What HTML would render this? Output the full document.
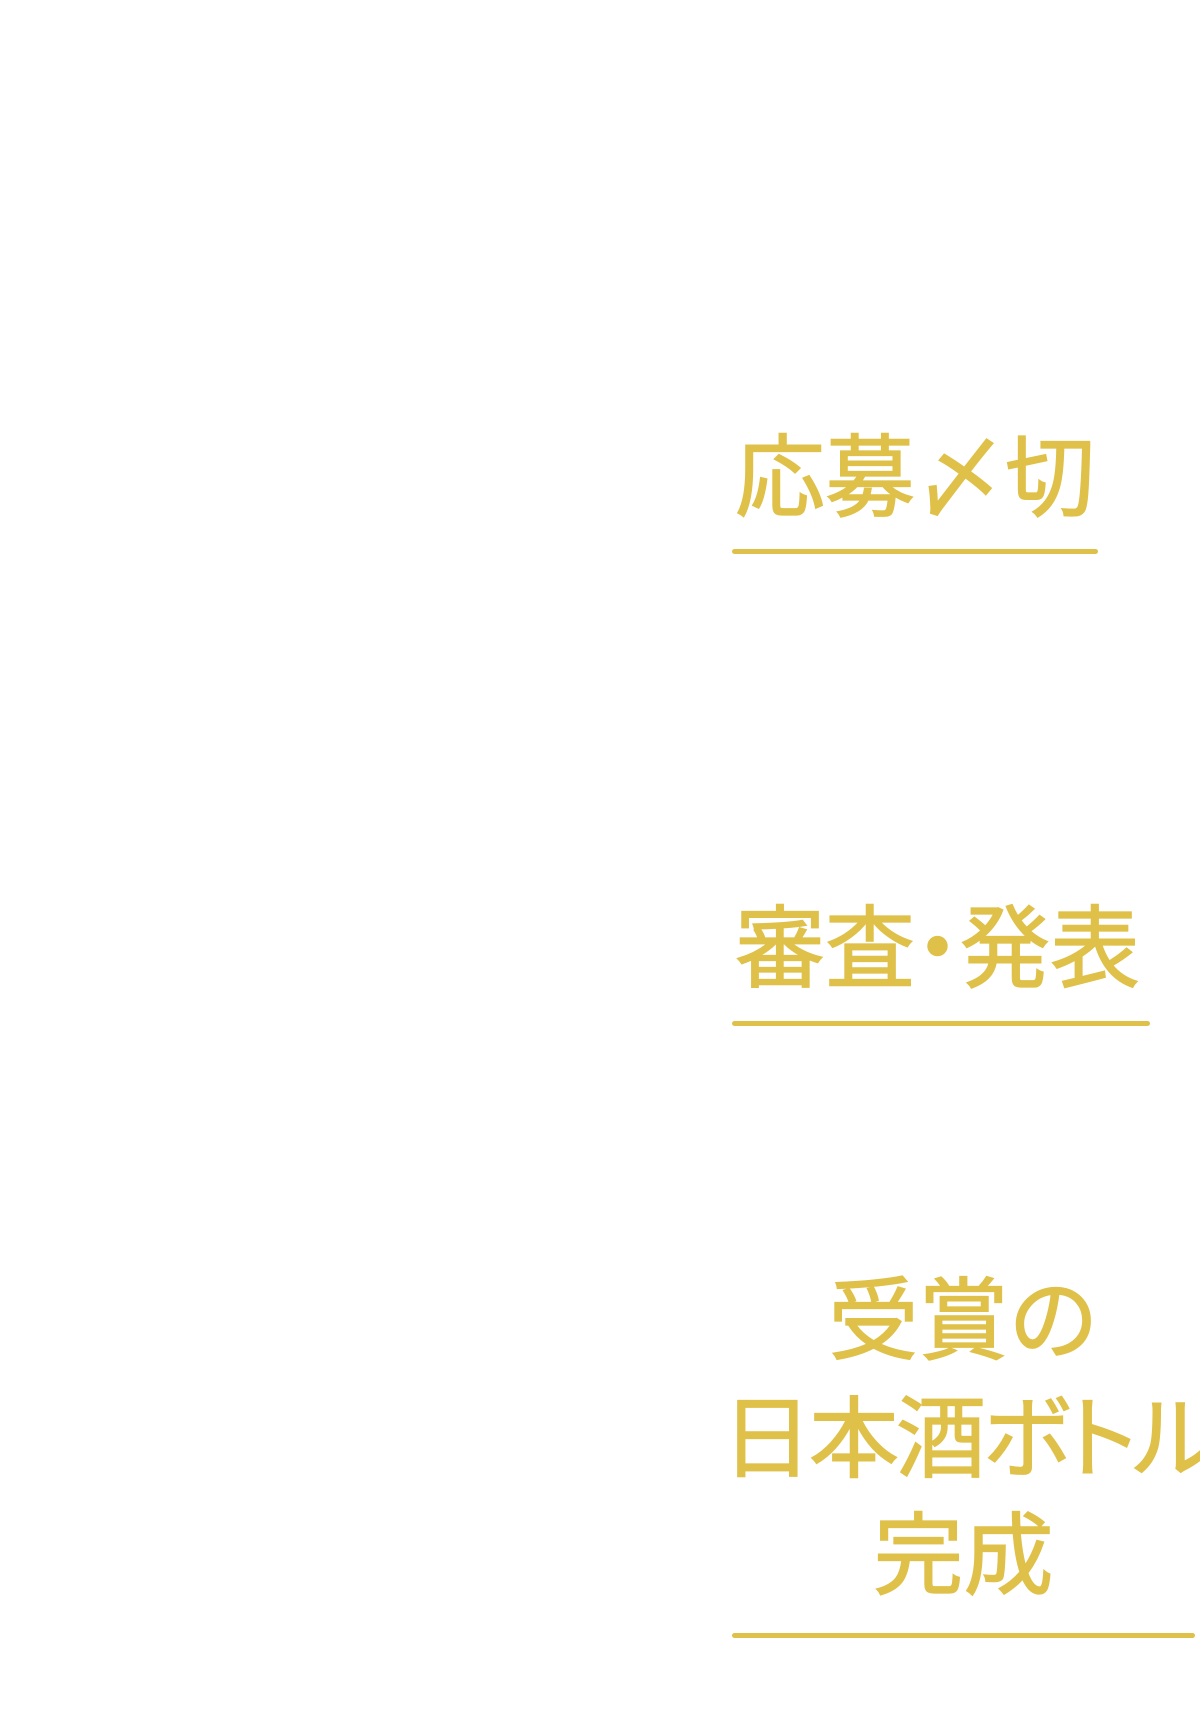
<!DOCTYPE html>
<html><head><meta charset="utf-8">
<style>
html,body{margin:0;padding:0;background:#fff;}
body{width:1200px;height:1720px;position:relative;overflow:hidden;
font-family:"Liberation Sans","Noto Sans CJK JP",sans-serif;color:#dfc048;font-weight:400;-webkit-text-stroke:1.3px #dfc048;}
.t{position:absolute;font-size:90px;line-height:90px;white-space:nowrap;}
.u{position:absolute;height:5px;background:#dfc048;border-radius:3px;left:732px;}
.c{position:absolute;left:732px;width:463px;text-align:center;font-size:90px;line-height:90px;white-space:nowrap;}
</style></head><body>
<div class="t" style="left:735px;top:434px;">応募〆切</div>
<div class="u" style="top:549px;width:366px;"></div>

<div class="t" style="left:735px;top:905px;font-feature-settings:'palt';">審査・発表</div>
<div class="u" style="top:1021px;width:418px;"></div>

<div class="c" style="top:1277px;">受賞の</div>
<div class="t" style="left:722px;top:1395px;font-feature-settings:'palt';letter-spacing:-3px;width:478px;overflow:hidden;">日本酒ボトル</div>
<div class="c" style="top:1512px;">完成</div>
<div class="u" style="top:1633px;width:463px;"></div>
</body></html>
